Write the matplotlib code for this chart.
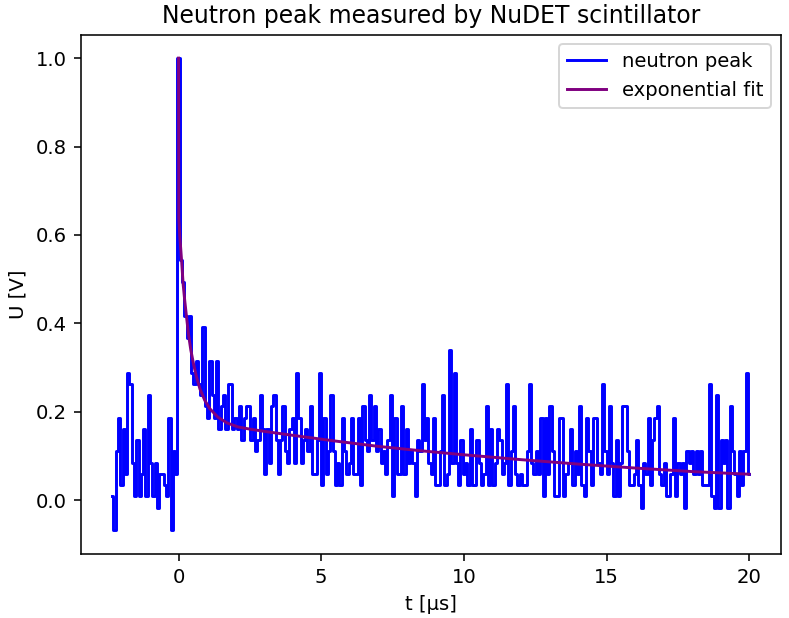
import numpy as np
import matplotlib
matplotlib.use("Agg")
import matplotlib.pyplot as plt

# sampling of the scope trace (peak sits at t = 0)
DT = 0.08      # us
T_START = -2.32  # us

# measured trace U [V]
u_pre = [0.009, -0.068, 0.111, 0.187, 0.034, 0.162, 0.060, 0.289, 0.264, 0.085,
         0.009, 0.136, 0.009, 0.060, 0.162, 0.009, 0.238, 0.085, 0.009, 0.085,
         -0.017, 0.060, 0.060, 0.034, 0.009, 0.187, -0.068, 0.111, 0.060]
u_peak = [1.000]
u_decay = [0.544, 0.493, 0.417, 0.366, 0.417, 0.289, 0.264, 0.315, 0.264, 0.238,
           0.391, 0.213, 0.187, 0.315, 0.238, 0.187, 0.315, 0.162, 0.213, 0.238,
           0.162, 0.264, 0.264, 0.162, 0.187]
u_tail = [0.162, 0.213, 0.136, 0.187, 0.213, 0.213, 0.136, 0.187, 0.111, 0.136,
          0.238, 0.162, 0.060, 0.162, 0.085, 0.213, 0.238, 0.136, 0.060, 0.136,
          0.213, 0.111, 0.085, 0.162, 0.187, 0.085, 0.289, 0.187, 0.085, 0.136,
          0.162, 0.111, 0.213, 0.060, 0.060, 0.136, 0.289, 0.034, 0.187, 0.060,
          0.111, 0.238, 0.111, 0.034,
          0.085, 0.034, 0.187, 0.111, 0.060, 0.085, 0.187, 0.060, 0.060, 0.187,
          0.034, 0.213, 0.136, 0.111, 0.238, 0.136, 0.213, 0.111, 0.162, 0.085,
          0.111, 0.060, 0.136, 0.238, 0.009, 0.187, 0.060, 0.060, 0.213, 0.060,
          0.162, 0.085, 0.111, 0.085, 0.009, 0.136, 0.111, 0.264, 0.136, 0.187,
          0.085, 0.060, 0.187, 0.034, 0.034, 0.111, 0.238, 0.034, 0.060, 0.340,
          0.085, 0.289, 0.085, 0.034, 0.136, 0.060, 0.085, 0.034, 0.162, 0.034,
          0.034, 0.136, 0.085, 0.034, 0.060, 0.213, 0.034, 0.162, 0.034, 0.085,
          0.162, 0.136, 0.060, 0.085, 0.264, 0.034, 0.111, 0.213, 0.060,
          0.034, 0.060, 0.034, 0.034, 0.111, 0.264, 0.085, 0.060, 0.111, 0.060,
          0.187, 0.009, 0.187, 0.060, 0.213, 0.111, 0.009, 0.009, 0.187, 0.187,
          0.009, 0.060, 0.085, 0.162, 0.034, 0.111, 0.060, 0.213, 0.034, 0.009,
          0.187, 0.111, 0.034, 0.187, 0.187, 0.085, 0.060, 0.264, 0.111,
          0.060, 0.213, 0.085, 0.009, 0.136, 0.009, 0.085, 0.213, 0.213, 0.111,
          0.034, 0.034, 0.060, 0.136, 0.034, -0.017, 0.085, 0.060, 0.187, 0.034,
          0.136, 0.187, 0.213, 0.060, 0.034, 0.085, 0.009, 0.009, 0.060, 0.187,
          0.009, 0.085, 0.060, 0.085, -0.017, 0.111, 0.085, 0.111, 0.060, 0.111,
          0.060, 0.111, 0.034, 0.034, 0.034, 0.264, 0.009, -0.017, 0.238, -0.017,
          0.136, 0.085, 0.136, -0.017, 0.213, 0.111, 0.060, 0.009, 0.111, 0.034,
          0.111, 0.289, 0.060]

# exponential fit, points
fit_t = [0.0, 0.01, 0.04, 0.08, 0.12, 0.16, 0.22, 0.28, 0.35, 0.43, 0.53, 0.63,
         0.75, 0.92, 1.1, 1.38, 1.7, 2.08, 2.5, 3.0, 4.0, 5.5, 7.0, 8.5, 10.0,
         12.0, 14.0, 16.0, 18.0, 20.0]
fit_u = [1.0, 0.64, 0.60, 0.566, 0.53, 0.49, 0.45, 0.415, 0.375, 0.34, 0.307, 0.279,
         0.252, 0.226, 0.207, 0.188, 0.175, 0.166, 0.161, 0.156, 0.147, 0.134, 0.122,
         0.112, 0.103, 0.092, 0.082, 0.073, 0.065, 0.059]

u = np.array(u_pre + u_peak + u_decay + u_tail)
t = T_START + DT * np.arange(len(u))

DPI = 141
fig = plt.figure(figsize=(789 / DPI, 618 / DPI), dpi=DPI)
ax = fig.add_axes([80.5 / 789, 1 - 554 / 618, 700.5 / 789, 519.5 / 618])

# scope samples are held -> stair look
ax.plot(t, u, color="blue", label="neutron peak", drawstyle="steps-mid")
ax.plot(fit_t, fit_u, color="purple", label="exponential fit")

ax.set_title("Neutron peak measured by NuDET scintillator")
ax.set_xlabel("t [µs]")
ax.set_ylabel("U [V]")
ax.legend(loc="upper right")

fig.savefig("out.png", dpi=DPI)
